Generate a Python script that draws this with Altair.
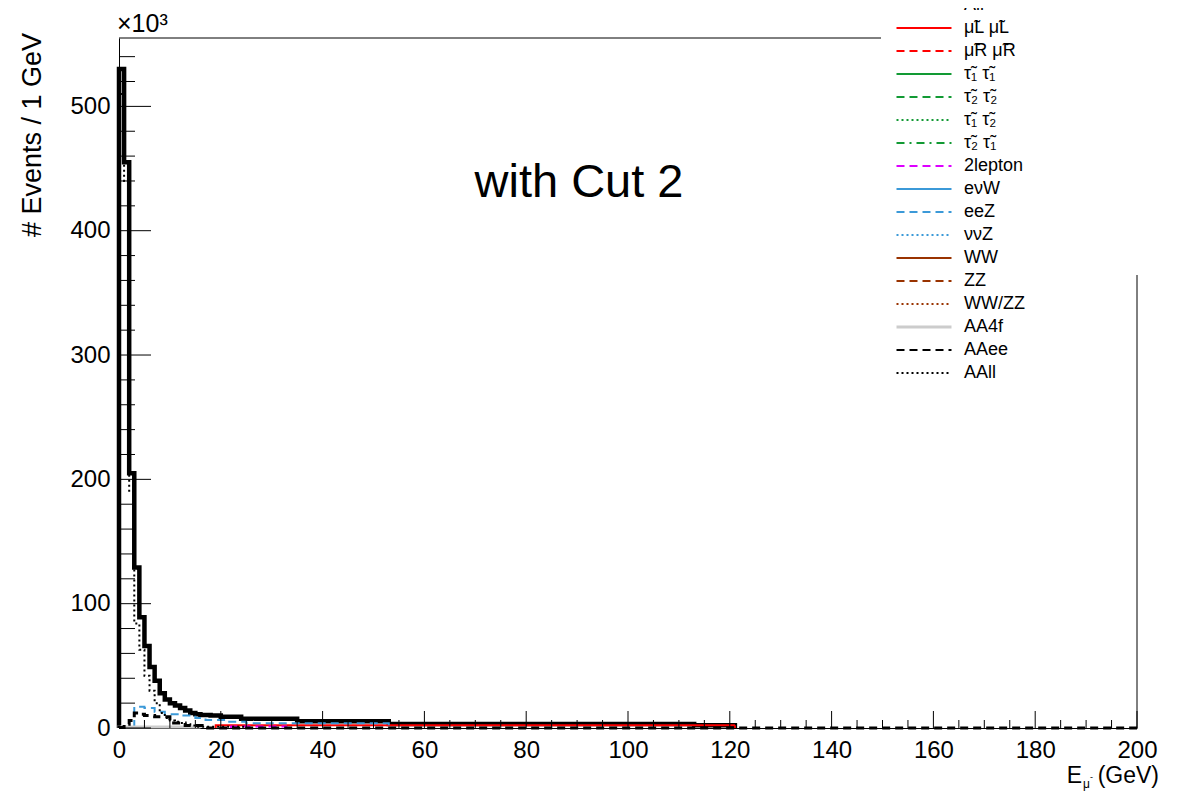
import altair as alt
import pandas as pd

# ---------------- data (values in units of 10^3) ----------------
SERIES = ["All", "μ̃L μ̃L", "μ̃R μ̃R", "τ̃₁ τ̃₁", "τ̃₂ τ̃₂", "τ̃₁ τ̃₂", "τ̃₂ τ̃₁",
          "2lepton", "eνW", "eeZ", "ννZ", "WW", "ZZ", "WW/ZZ", "AA4f", "AAee", "AAll"]
COLORS = ["#000000", "#ff0000", "#ff0000", "#129a34", "#129a34", "#129a34", "#129a34",
          "#dd00ff", "#3b99d8", "#3b99d8", "#3b99d8", "#993300", "#993300", "#993300",
          "#cccccc", "#000000", "#000000"]
DASHES = [[1, 0], [1, 0], [8, 5], [1, 0], [8, 5], [2, 3], [8, 5, 2, 5],
          [8, 5], [1, 0], [8, 5], [2, 3], [1, 0], [8, 5], [2, 3], [1, 0], [8, 5], [2, 3]]
WIDTHS = [4.5, 2, 2, 2, 2, 2, 2, 2, 2, 2, 2, 2.5, 2, 2, 3, 3, 2]

# bin edges / contents of each histogram (flat runs merged)
ALL_EDGES = [0, 1, 2, 3, 4, 5, 6, 7, 8, 9, 10, 11, 12, 13, 14, 15, 16, 18, 20, 24, 35, 53, 113, 121]
ALL_VALUES = [530, 455, 205, 129, 89, 66, 49, 38, 28, 23, 20, 18, 16, 14, 12, 11, 10.5, 10, 9,
              7.5, 5.5, 3.2, 2.3]
MULMUL_EDGES = [19, 121]
MULMUL_VALUES = [2.3]
TWOLEP_EDGES = [22, 33]
TWOLEP_VALUES = [1.2]
EEZ_EDGES = [3, 5, 7, 9, 12, 15, 17, 21, 25, 53]
EEZ_VALUES = [17, 16, 13, 11, 10, 8, 6.5, 5, 3.8]
AA4F_EDGES = [0, 16]
AA4F_VALUES = [0.8]
AAEE_EDGES = [0, 1, 2, 3, 4, 5, 7, 10, 13, 17, 200]
AAEE_VALUES = [0.5, 3, 6, 12, 11, 10, 9, 4, 2, 0]
AALL_EDGES = [0, 1, 2, 3, 4, 5, 6, 7, 8, 9, 10, 11, 12, 13, 14, 15, 25]
AALL_VALUES = [510, 440, 190, 84, 63, 42, 30, 20, 12, 8, 6, 5, 4, 3, 2, 1]

HISTS = {
    "All": (ALL_EDGES, ALL_VALUES),
    "μ̃L μ̃L": (MULMUL_EDGES, MULMUL_VALUES),
    "2lepton": (TWOLEP_EDGES, TWOLEP_VALUES),
    "eeZ": (EEZ_EDGES, EEZ_VALUES),
    "AA4f": (AA4F_EDGES, AA4F_VALUES),
    "AAee": (AAEE_EDGES, AAEE_VALUES),
    "AAll": (AALL_EDGES, AALL_VALUES),
}

X_LABELS = [0, 20, 40, 60, 80, 100, 120, 140, 160, 180, 200]
Y_LABELS = [0, 100, 200, 300, 400, 500]
X_MINOR = [v for v in range(0, 201, 5) if v % 20]
Y_MINOR = [v for v in range(0, 555, 20) if v % 100]

FONT = "Liberation Sans"

# ---------------- scales / axes ----------------
xscale = alt.Scale(domain=[0, 200], nice=False, zero=False)
yscale = alt.Scale(domain=[0, 555], nice=False)
xaxis = alt.Axis(values=X_LABELS, ticks=False, grid=False, title=None, domainColor="black",
                 domainWidth=1, labelFontSize=24, labelFont=FONT, labelColor="black",
                 labelPadding=10, labelFlush=False, format="d")
yaxis = alt.Axis(values=Y_LABELS, ticks=False, grid=False, title=None, domainColor="black",
                 domainWidth=1, labelFontSize=24, labelFont=FONT, labelColor="black",
                 labelPadding=9, format="d")

legend = alt.Legend(
    orient="none", legendX=774, legendY=-42, title=None, padding=0,
    symbolType="M-1,0H9", symbolSize=121, labelOffset=53,
    symbolStrokeWidth={"expr": "datum.value == 'All' ? 4.5 : (datum.value == 'AA4f' ? 3 : 2)"},
    labelFontSize=18, labelFont=FONT, labelColor="black", labelLimit=300,
    rowPadding=5, symbolFillColor="transparent")

color = alt.Color("series:N", scale=alt.Scale(domain=SERIES, range=COLORS), legend=legend)
dash = alt.StrokeDash("series:N", scale=alt.Scale(domain=SERIES, range=DASHES), legend=legend)

layers = []
for k, s in enumerate(SERIES):
    if s not in HISTS:
        continue
    edges, vals = HISTS[s]
    pts = [(edges[0], 0.0)] + list(zip(edges[:-1], vals)) + [(edges[-1], vals[-1]), (edges[-1], 0.0)]
    df = pd.DataFrame({"x": [p[0] for p in pts], "y": [p[1] for p in pts],
                       "series": s, "i": list(range(len(pts)))})
    layers.append(
        alt.Chart(df).mark_line(interpolate="step-after", strokeWidth=WIDTHS[k]).encode(
            x=alt.X("x:Q", scale=xscale, axis=xaxis),
            y=alt.Y("y:Q", scale=yscale, axis=yaxis),
            color=color, strokeDash=dash, order=alt.Order("i:Q"))
    )

one = pd.DataFrame({"k": [0]})
# frame (top and right edges, partly hidden by the legend box)
frame_top = alt.Chart(one).mark_rule(color="black", strokeWidth=1).encode(
    x=alt.value(0), x2=alt.value(762), y=alt.value(0))
frame_right = alt.Chart(one).mark_rule(color="black", strokeWidth=1).encode(
    x=alt.value(1018), y=alt.value(237), y2=alt.value(690))

# inward ticks (ROOT style)
xmaj = alt.Chart(pd.DataFrame({"t": X_LABELS})).mark_rule(color="black").encode(
    x=alt.X("t:Q", scale=xscale, axis=xaxis), y=alt.value(690), y2=alt.value(673))
xmin = alt.Chart(pd.DataFrame({"t": X_MINOR})).mark_rule(color="black").encode(
    x=alt.X("t:Q", scale=xscale, axis=xaxis), y=alt.value(690), y2=alt.value(682))
ymaj = alt.Chart(pd.DataFrame({"t": Y_LABELS})).mark_rule(color="black").encode(
    y=alt.Y("t:Q", scale=yscale, axis=yaxis), x=alt.value(0), x2=alt.value(32))
ymin = alt.Chart(pd.DataFrame({"t": Y_MINOR})).mark_rule(color="black").encode(
    y=alt.Y("t:Q", scale=yscale, axis=yaxis), x=alt.value(0), x2=alt.value(16))


def text(label, x, y, size, align="left", angle=0, baseline="alphabetic"):
    return alt.Chart(pd.DataFrame({"t": [label]})).mark_text(
        font=FONT, fontSize=size, color="black", align=align, baseline=baseline, angle=angle
    ).encode(text="t:N", x=alt.value(x), y=alt.value(y))


texts = [
    text("with Cut 2", 460, 159, 47, align="center"),
    text("×10³", -2, -6, 25),
    text("# Events / 1 GeV", -86, -5, 27, align="right", angle=270, baseline="middle"),
    text("(GeV)", 1040, 745, 23, align="right"),
    text("E", 963, 745, 23, align="right"),
    text("μ", 964, 750, 12),
    text("-", 971, 742, 9),
]

chart = alt.layer(*layers, frame_top, frame_right, xmaj, xmin, ymaj, ymin, *texts).properties(
    width=1018, height=690, autosize="none",
    padding={"left": 111, "top": 30, "right": 33, "bottom": 64},
).configure(background="white").configure_view(stroke=None)

chart.save("out.html", embed_options={"renderer": "svg", "actions": False})
